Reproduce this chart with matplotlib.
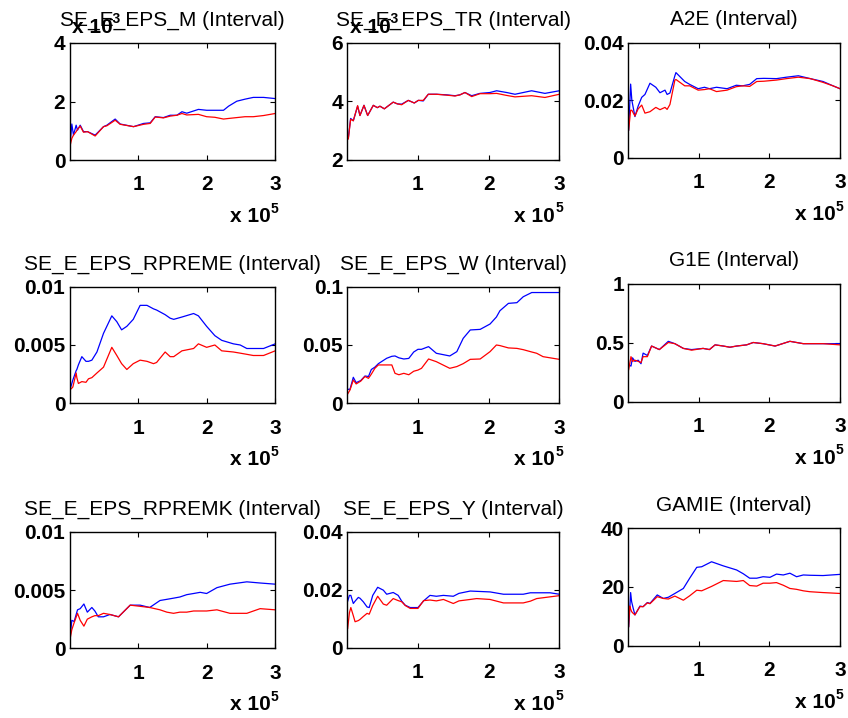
import numpy as np
import matplotlib
matplotlib.use("Agg")
import matplotlib.pyplot as plt
from matplotlib.ticker import FixedLocator, FixedFormatter

plt.rcParams['font.family'] = ['Liberation Sans', 'DejaVu Sans']

# ---------------- data (x in thousands) ----------------
X_M = [0.5, 3.4, 5.8, 9.7, 11.7, 15.6, 20.4, 26.3, 37.4, 49.6, 54.5, 66.6, 73.9, 93.4, 108, 117.7,
       125, 137, 146.8, 156.6, 164, 171, 188, 200, 212, 224.6, 232, 244, 256, 268, 283, 300]
M_BLUE = [0.45, 1.23, 0.85, 1.19, 1.02, 1.19, 0.97, 0.97, 0.85, 1.14, 1.19, 1.40, 1.23, 1.14, 1.25, 1.27,
          1.48, 1.45, 1.53, 1.53, 1.65, 1.60, 1.73, 1.70, 1.70, 1.70, 1.84, 2.01, 2.08, 2.14, 2.14, 2.10]
M_RED = [0.45, 0.74, 0.85, 0.97, 1.05, 1.16, 0.95, 0.97, 0.82, 1.14, 1.17, 1.36, 1.22, 1.14, 1.22, 1.25,
         1.47, 1.44, 1.50, 1.53, 1.59, 1.54, 1.56, 1.48, 1.46, 1.40, 1.42, 1.45, 1.48, 1.48, 1.52, 1.59]

X_TR = [0.5, 1.4, 4.7, 8.5, 14.6, 17.9, 23.6, 28.8, 36.8, 42.5, 46.2, 52.4, 65, 70.8, 76.9, 86.3, 94.8,
        100.5, 107.5, 114.6, 126.4, 140.6, 152.4, 159.4, 166.5, 176, 187.7, 201.9, 211.3, 225.5, 237.3,
        249, 260.8, 279.7, 300]
TR_BLUE = [2.78, 2.72, 3.41, 3.33, 3.83, 3.51, 3.86, 3.51, 3.86, 3.78, 3.83, 3.74, 3.97, 3.91, 3.90, 4.03,
           3.94, 4.03, 4.01, 4.24, 4.24, 4.22, 4.19, 4.22, 4.30, 4.19, 4.27, 4.30, 4.36, 4.30, 4.24, 4.30,
           4.36, 4.27, 4.36]
TR_RED = [2.78, 2.70, 3.38, 3.33, 3.85, 3.51, 3.86, 3.51, 3.86, 3.78, 3.83, 3.74, 3.97, 3.91, 3.88, 4.03,
          3.94, 4.03, 4.03, 4.24, 4.24, 4.21, 4.18, 4.22, 4.30, 4.16, 4.26, 4.26, 4.27, 4.20, 4.15, 4.17,
          4.19, 4.13, 4.24]

X_A2E = [0.5, 3.3, 5, 9.4, 14, 19, 23.6, 30.7, 39, 44.9, 52, 55, 59, 66, 67.5, 80, 87, 99, 108, 115, 125,
         140, 153, 162, 172, 182, 192, 210, 224, 241, 258, 276, 290, 300]
A2E_BLUE = [0.0096, 0.0256, 0.020, 0.0143, 0.018, 0.021, 0.022, 0.0259, 0.0245, 0.0226, 0.0235, 0.022,
            0.0225, 0.0285, 0.0296, 0.0265, 0.0255, 0.024, 0.0245, 0.024, 0.0245, 0.024, 0.0252, 0.025,
            0.0255, 0.0275, 0.0276, 0.0275, 0.028, 0.0285, 0.0275, 0.0265, 0.025, 0.024]
A2E_RED = [0.0096, 0.0165, 0.0165, 0.0145, 0.017, 0.0183, 0.0155, 0.016, 0.0175, 0.0167, 0.0175, 0.0168,
           0.0185, 0.027, 0.0272, 0.025, 0.025, 0.0235, 0.0237, 0.024, 0.023, 0.0235, 0.0247, 0.025,
           0.0248, 0.0265, 0.0266, 0.027, 0.0275, 0.028, 0.0275, 0.0262, 0.025, 0.024]

X_RPREME = [0.5, 3.4, 4.9, 9.7, 10.7, 13, 18, 24, 27.7, 32.6, 40, 49.6, 61.7, 69, 76, 83.6, 93, 103, 113,
            122.5, 127, 139.5, 146.8, 152, 164, 181, 188, 200, 212, 222, 239, 249, 258.6, 268, 283, 300]
RPREME_BLUE = [0.00114, 0.0017, 0.0020, 0.0028, 0.0029, 0.0033, 0.0040, 0.0036, 0.0036, 0.0037, 0.0044,
               0.0060, 0.0075, 0.0070, 0.0063, 0.0066, 0.0072, 0.0084, 0.0084, 0.0081, 0.0080, 0.0076,
               0.0073, 0.0072, 0.0074, 0.0077, 0.0075, 0.0066, 0.0058, 0.0054, 0.0051, 0.0050, 0.0047,
               0.0047, 0.0047, 0.0051]
RPREME_RED = [0.00114, 0.0013, 0.0014, 0.0026, 0.0022, 0.0017, 0.00186, 0.0018, 0.0021, 0.0022, 0.0026,
              0.0031, 0.0048, 0.0041, 0.0034, 0.0029, 0.0034, 0.0037, 0.0036, 0.0034, 0.0035, 0.0044,
              0.0040, 0.0040, 0.0045, 0.0047, 0.0051, 0.0048, 0.0050, 0.0045, 0.0044, 0.0043, 0.0042,
              0.0041, 0.0041, 0.0045]

X_W = [0.5, 3.8, 8.5, 12.5, 19, 25, 30, 34, 39, 44, 55.7, 63, 67.5, 73, 80, 87, 94, 100, 105, 115, 126,
       145, 155, 164, 174, 188, 202, 211, 216, 228, 240, 249, 261, 268, 277, 300]
W_BLUE = [0.012, 0.012, 0.0223, 0.0177, 0.0195, 0.0234, 0.023, 0.029, 0.031, 0.034, 0.0386, 0.0403,
          0.0406, 0.0390, 0.0380, 0.0385, 0.0440, 0.0463, 0.0463, 0.0486, 0.0429, 0.0406, 0.0443, 0.0557,
          0.0629, 0.0634, 0.0680, 0.0740, 0.0794, 0.0857, 0.0863, 0.0914, 0.0950, 0.0950, 0.0950, 0.0950]
W_RED = [0.008, 0.0114, 0.020, 0.0166, 0.019, 0.023, 0.0214, 0.025, 0.030, 0.0329, 0.0329, 0.0329,
         0.0257, 0.0245, 0.0257, 0.0245, 0.0275, 0.0285, 0.0300, 0.0380, 0.0357, 0.0300, 0.0315, 0.0340,
         0.0377, 0.0380, 0.0443, 0.0500, 0.0495, 0.0475, 0.0471, 0.0460, 0.0440, 0.0429, 0.0400, 0.0377]

X_G1E = [0.5, 3.8, 6, 9.4, 14, 18, 21, 27, 33, 44, 56.7, 66, 78, 89.7, 106, 115, 123, 134.6, 144, 153.5,
         167.7, 177, 191, 208, 229, 248, 276, 300]
G1E_BLUE = [0.31, 0.30, 0.37, 0.34, 0.35, 0.32, 0.41, 0.39, 0.47, 0.44, 0.51, 0.49, 0.45, 0.44, 0.45,
            0.44, 0.48, 0.47, 0.46, 0.47, 0.48, 0.50, 0.49, 0.47, 0.51, 0.49, 0.49, 0.49]
G1E_RED = [0.27, 0.38, 0.34, 0.35, 0.34, 0.33, 0.38, 0.38, 0.47, 0.44, 0.50, 0.49, 0.45, 0.435, 0.45,
           0.44, 0.48, 0.47, 0.46, 0.47, 0.48, 0.50, 0.49, 0.47, 0.51, 0.49, 0.49, 0.48]

X_RPREMK = [0.5, 3.4, 6.8, 11.7, 15.6, 21, 26, 32.6, 37, 42, 49.6, 59, 71.5, 88.5, 103, 117, 132, 142,
            151.7, 161, 171, 181, 190.6, 200, 215, 234, 258.6, 278, 300]
RPREMK_BLUE = [0.0007, 0.0024, 0.0023, 0.0033, 0.0034, 0.0038, 0.0031, 0.0035, 0.0032, 0.0027, 0.0027,
               0.0029, 0.0027, 0.0037, 0.0037, 0.0035, 0.0041, 0.0042, 0.0043, 0.0044, 0.0046, 0.0047,
               0.0048, 0.0047, 0.0052, 0.0055, 0.0057, 0.0056, 0.0055]
RPREMK_RED = [0.0007, 0.0016, 0.0022, 0.0030, 0.0024, 0.0019, 0.0025, 0.0027, 0.0028, 0.0028, 0.0030,
              0.0029, 0.0027, 0.0037, 0.0036, 0.0035, 0.0033, 0.0031, 0.0030, 0.0031, 0.0031, 0.0032,
              0.0032, 0.0032, 0.0033, 0.0030, 0.0030, 0.0034, 0.0033]

X_Y = [0.5, 3, 5, 8.5, 11, 15.6, 18, 22.6, 28, 31, 36, 43, 51, 55.7, 65, 72, 77, 82, 89, 100, 108, 117,
       126, 136, 150, 158, 174, 183, 202, 221, 249, 259, 268, 287, 300]
Y_BLUE = [0.016, 0.018, 0.018, 0.0152, 0.016, 0.0173, 0.017, 0.0158, 0.014, 0.0138, 0.018, 0.0208,
          0.0198, 0.0184, 0.019, 0.018, 0.016, 0.0146, 0.0138, 0.0138, 0.0161, 0.018, 0.0177, 0.018,
          0.0177, 0.0187, 0.0195, 0.0194, 0.0192, 0.0184, 0.0184, 0.0189, 0.0189, 0.0189, 0.0184]
Y_RED = [0.0066, 0.012, 0.0138, 0.011, 0.0089, 0.0093, 0.0097, 0.0107, 0.0118, 0.0115, 0.0145, 0.0177,
         0.015, 0.0146, 0.0169, 0.0162, 0.0158, 0.0145, 0.0135, 0.0135, 0.0162, 0.0164, 0.0161, 0.0166,
         0.0152, 0.0161, 0.0166, 0.0169, 0.0166, 0.0154, 0.0154, 0.016, 0.0169, 0.0175, 0.0179]

X_GAMIE = [0.5, 2, 3.3, 4.7, 7, 9.4, 16.5, 21, 27, 30.7, 41, 49.6, 56.7, 66, 78, 87, 97, 104, 118, 134.6,
           153.5, 163, 172, 182, 191, 200.8, 210, 219.6, 229, 238.5, 248, 257, 276, 300]
GAMIE_BLUE = [6.5, 12, 18.1, 15, 12.7, 10.5, 13.5, 13.3, 14.7, 14.4, 17.3, 16.1, 16.5, 17.8, 19.5, 23.0,
              26.7, 26.9, 28.6, 27.2, 25.8, 24.5, 23.0, 23.0, 23.5, 23.3, 24.4, 24.1, 24.7, 23.5, 24.1,
              24.0, 23.9, 24.3]
GAMIE_RED = [6.5, 13.5, 12.5, 11.6, 11.0, 10.5, 13.3, 13.3, 14.6, 14.3, 16.7, 16.1, 15.9, 16.9, 15.5, 17.0,
             18.9, 18.7, 20.2, 22.2, 21.9, 22.2, 20.5, 20.3, 21.3, 21.3, 21.5, 20.6, 19.5, 19.2, 18.7,
             18.4, 18.1, 17.8]

TITLES = ["SE_E_EPS_M (Interval)", "SE_E_EPS_TR (Interval)", "A2E (Interval)",
          "SE_E_EPS_RPREME (Interval)", "SE_E_EPS_W (Interval)", "G1E (Interval)",
          "SE_E_EPS_RPREMK (Interval)", "SE_E_EPS_Y (Interval)", "GAMIE (Interval)"]
SERIES = [(X_M, M_BLUE, M_RED), (X_TR, TR_BLUE, TR_RED), (X_A2E, A2E_BLUE, A2E_RED),
          (X_RPREME, RPREME_BLUE, RPREME_RED), (X_W, W_BLUE, W_RED), (X_G1E, G1E_BLUE, G1E_RED),
          (X_RPREMK, RPREMK_BLUE, RPREMK_RED), (X_Y, Y_BLUE, Y_RED), (X_GAMIE, GAMIE_BLUE, GAMIE_RED)]
Y_SCALE = [1e-3, 1e-3, 1, 1, 1, 1, 1, 1, 1]
Y_TICKS = [[0, 2, 4], [2, 4, 6], [0, 0.02, 0.04], [0, 0.005, 0.01], [0, 0.05, 0.1], [0, 0.5, 1],
           [0, 0.005, 0.01], [0, 0.02, 0.04], [0, 20, 40]]
Y_TICKLABELS = [["0", "2", "4"], ["2", "4", "6"], ["0", "0.02", "0.04"], ["0", "0.005", "0.01"],
                ["0", "0.05", "0.1"], ["0", "0.5", "1"], ["0", "0.005", "0.01"], ["0", "0.02", "0.04"],
                ["0", "20", "40"]]
X_TICKS = [100000, 200000, 300000]
X_TICKLABELS = ["1", "2", "3"]

# ---------------- layout (pixels) ----------------
W, H = 848, 718
fig = plt.figure(figsize=(W / 100, H / 100), dpi=100)
COL_LEFT = [69.5, 347.3, 628.3]
COL_WIDTH = [205.7, 212, 211.7]
ROW_TOP = [[43, 43, 42.7], [286.7, 286.7, 283.5], [531.7, 531.7, 528.3]]
AX_H = [[117, 116.5, 115], [116.6, 116.6, 118], [116.6, 115.8, 117.4]]

TICK_FS = 15
for i in range(9):
    r, c = divmod(i, 3)
    left = COL_LEFT[c] / W
    top = ROW_TOP[r][c]
    h = AX_H[r][c]
    ax = fig.add_axes([left, 1 - (top + h) / H, COL_WIDTH[c] / W, h / H])
    xs, yb, yr = SERIES[i]
    xk = np.array(xs) * 1000.0
    s = Y_SCALE[i]
    ax.plot(xk, np.array(yb) * s, color='#0000FF', lw=0.9)
    ax.plot(xk, np.array(yr) * s, color='#FF0000', lw=0.9)
    ax.set_xlim(0, 300000)
    yt = [v * s for v in Y_TICKS[i]]
    ax.set_ylim(yt[0], yt[-1])
    ax.yaxis.set_major_locator(FixedLocator(yt))
    ax.yaxis.set_major_formatter(FixedFormatter(Y_TICKLABELS[i]))
    ax.xaxis.set_major_locator(FixedLocator(X_TICKS))
    ax.xaxis.set_major_formatter(FixedFormatter(X_TICKLABELS))
    ax.tick_params(direction='in', top=True, right=True, length=3.5, width=0.8,
                   labelsize=TICK_FS)
    ax.tick_params(axis='x', pad=11)
    ax.tick_params(axis='y', pad=3)
    for lab in ax.get_xticklabels() + ax.get_yticklabels():
        lab.set_fontweight('bold')
    for sp in ax.spines.values():
        sp.set_linewidth(1.0)
    ax.set_title(TITLES[i], fontsize=15, pad=12.5)

    # x multiplier "x 10^5" below right corner
    ax.annotate("x 10", xy=(1, 0), xycoords='axes fraction', xytext=(-3, -62 * 0.72),
                textcoords='offset points', ha='right', va='baseline', fontsize=TICK_FS,
                fontweight='bold')
    ax.annotate("5", xy=(1, 0), xycoords='axes fraction', xytext=(-3, -53 * 0.72),
                textcoords='offset points', ha='left', va='baseline', fontsize=10,
                fontweight='bold')
    if Y_SCALE[i] != 1:
        ax.annotate("x 10", xy=(0, 1), xycoords='axes fraction', xytext=(2, 10 * 0.72),
                    textcoords='offset points', ha='left', va='baseline', fontsize=TICK_FS,
                    fontweight='bold')
        ax.annotate("-3", xy=(0, 1), xycoords='axes fraction', xytext=(39 * 0.72, 20 * 0.72),
                    textcoords='offset points', ha='left', va='baseline', fontsize=10,
                    fontweight='bold')

fig.savefig("out.png", dpi=100, facecolor='white')
